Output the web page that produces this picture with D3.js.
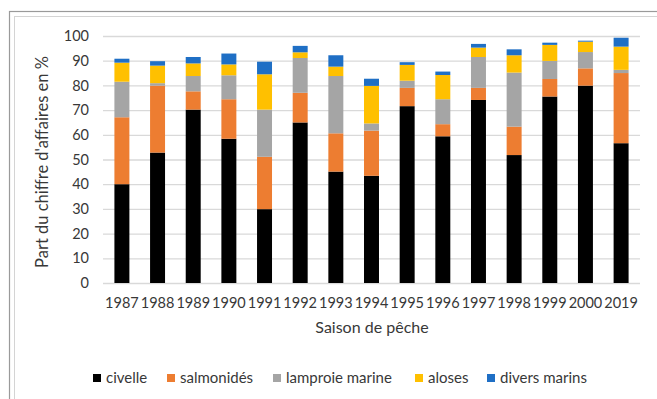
<!DOCTYPE html>
<html>
<head>
<meta charset="utf-8">
<script src="https://cdn.jsdelivr.net/npm/d3@7"></script>
<style>
  html, body { margin: 0; padding: 0; background: #fff; }
  svg { display: block; }
  text { font-family: Lato, "Open Sans", sans-serif; fill: #383838; }
</style>
</head>
<body>
<svg id="chart" width="657" height="399"></svg>
<script>
// Fishing seasons
const seasons = ["1987","1988","1989","1990","1991","1992","1993","1994","1995","1996","1997","1998","1999","2000","2019"];

// Share of turnover (%) per species group, one value per season
const civelle        = [40.0, 52.8, 70.2, 58.4, 29.9, 65.0, 45.1, 43.4, 71.6, 59.4, 74.1, 51.8, 75.5, 79.9, 56.6];
const salmonides     = [27.1, 27.1,  7.4, 16.0, 21.2, 12.0, 15.5, 18.3,  7.4,  4.9,  4.9, 11.5,  7.1,  7.0, 28.4];
const lamproieMarine = [14.4,  1.0,  6.2,  9.7, 19.1, 14.1, 23.2,  2.9,  2.9, 10.1, 12.5, 21.9,  7.3,  6.6,  1.3];
const aloses         = [ 7.7,  7.1,  5.1,  4.4, 14.3,  2.3,  3.8, 15.2,  6.4,  9.8,  3.8,  7.0,  6.5,  4.2,  9.4];
const diversMarins   = [ 1.6,  1.8,  2.6,  4.4,  5.1,  2.6,  4.6,  2.9,  1.1,  1.4,  1.5,  2.4,  0.9,  0.4,  3.6];

const seriesNames = ["civelle", "salmonidés", "lamproie marine", "aloses", "divers marins"];
const seriesValues = [civelle, salmonides, lamproieMarine, aloses, diversMarins];
const seriesColors = ["#000000", "#ED7D31", "#A5A5A5", "#FFC000", "#1F6FC5"];

const yTicks = [0, 10, 20, 30, 40, 50, 60, 70, 80, 90, 100];

const svg = d3.select("#chart");

// Double frame around the chart area
svg.append("rect").attr("x", 9.5).attr("y", 11.5).attr("width", 700).attr("height", 450)
  .attr("fill", "none").attr("stroke", "#9a9a9a").attr("stroke-width", 1.2);
svg.append("rect").attr("x", 14.5).attr("y", 16.5).attr("width", 700).attr("height", 450)
  .attr("fill", "none").attr("stroke", "#d4d4d4").attr("stroke-width", 1);

const rows = seasons.map((s, i) => {
  const r = { season: s };
  seriesNames.forEach((n, k) => { r[n] = seriesValues[k][i]; });
  return r;
});

const x = d3.scaleBand().domain(seasons).range([103, 640]).paddingInner(0.58).paddingOuter(0.32);
const y = d3.scaleLinear().domain([0, 100]).range([283, 36]);

// Horizontal gridlines and y tick labels
const yAxis = d3.axisLeft(y).tickValues(yTicks).tickSize(-(640 - 103)).tickPadding(14);
const gy = svg.append("g").attr("transform", "translate(103,0)").call(yAxis);
gy.select(".domain").remove();
gy.selectAll(".tick line").attr("stroke", "#d9d9d9").attr("stroke-width", 1.3);
gy.selectAll(".tick text").attr("font-size", 14.5).attr("fill", "#383838")
  .style("font-family", "Lato, 'Open Sans', sans-serif");

// Stacked bars
const stack = d3.stack().keys(seriesNames);
const layers = stack(rows);
svg.append("g").selectAll("g").data(layers).join("g")
  .attr("fill", (d, i) => seriesColors[i])
  .selectAll("rect").data(d => d).join("rect")
  .attr("x", d => x(d.data.season))
  .attr("width", x.bandwidth())
  .attr("y", d => y(d[1]))
  .attr("height", d => y(d[0]) - y(d[1]));

// X axis labels
const xAxis = d3.axisBottom(x).tickSize(0).tickPadding(15);
const gx = svg.append("g").attr("transform", "translate(0,283)").call(xAxis);
gx.select(".domain").remove();
gx.selectAll(".tick text").attr("font-size", 14.5).attr("fill", "#383838")
  .style("font-family", "Lato, 'Open Sans', sans-serif");

// Axis titles
svg.append("text").attr("x", 372).attr("y", 333).attr("text-anchor", "middle")
  .attr("font-size", 16).text("Saison de pêche");
svg.append("text").attr("transform", "translate(48,162) rotate(-90)")
  .attr("text-anchor", "middle").attr("font-size", 16.5)
  .text("Part du chiffre d'affaires en %");

// Legend
const legendX = [93, 167, 273, 415, 487];
const lg = svg.append("g").selectAll("g").data(seriesNames).join("g")
  .attr("transform", (d, i) => `translate(${legendX[i]},378)`);
lg.append("rect").attr("x", 0).attr("y", -4).attr("width", 8).attr("height", 8)
  .attr("fill", (d, i) => seriesColors[i]);
lg.append("text").attr("x", 13).attr("y", 5).attr("font-size", 15).text(d => d);
</script>
</body>
</html>
